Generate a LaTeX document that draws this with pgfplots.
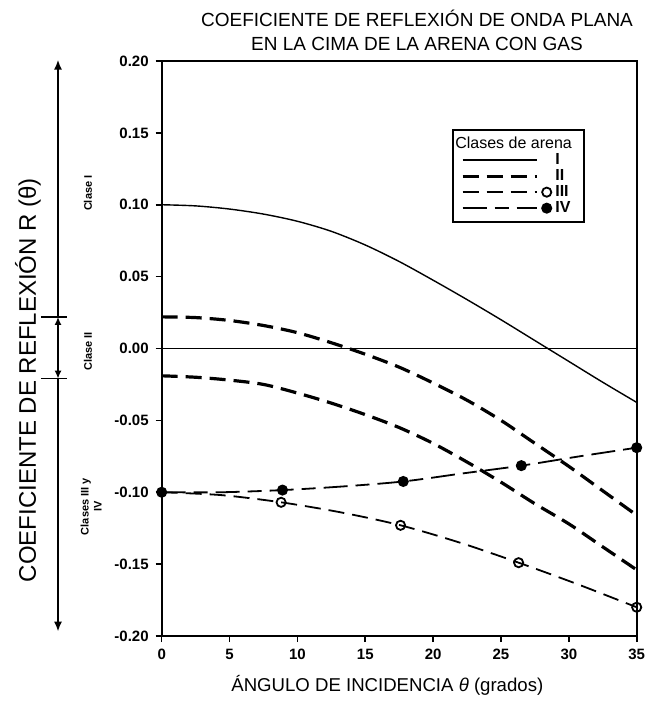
\documentclass[border=0pt]{standalone}
\usepackage{fontspec}
\setmainfont{Liberation Sans}
\usepackage{pgfplots}
\usepackage{pgfplotstable}
\pgfplotsset{compat=1.18}
\usetikzlibrary{arrows.meta}

\pgfplotstableread{
x y
0 0.100
2.5 0.0992
5 0.0970
7.5 0.0935
10 0.0885
12.5 0.0815
15 0.0720
17.5 0.0605
20 0.0475
22.5 0.034
25 0.0200
27.5 0.0055
30 -0.0090
32.5 -0.0235
35 -0.0375
}\classI

\pgfplotstableread{
x y
0 0.022
2.5 0.0215
5 0.0195
7.5 0.016
10 0.011
12.5 0.004
15 -0.004
17.5 -0.013
20 -0.024
22.5 -0.036
25 -0.050
27.5 -0.066
30 -0.082
32.5 -0.099
35 -0.116
}\classIIa

\pgfplotstableread{
x y
0 -0.019
2.5 -0.020
5 -0.022
7.5 -0.025
10 -0.031
12.5 -0.038
15 -0.046
17.5 -0.055
20 -0.066
22.5 -0.079
25 -0.093
27.5 -0.108
30 -0.122
32.5 -0.138
35 -0.154
}\classIIb

\pgfplotstableread{
x y
0 -0.100
4.4 -0.102
8.8 -0.107
13.2 -0.114
17.6 -0.123
21.95 -0.135
26.3 -0.149
30.65 -0.164
35 -0.180
}\classIII

\pgfplotstableread{
x y
0 -0.100
4.4 -0.100
8.9 -0.0985
13.3 -0.096
17.8 -0.0925
22.1 -0.087
26.5 -0.0815
30.8 -0.075
35 -0.069
}\classIV

\begin{document}
\begin{tikzpicture}
\path[use as bounding box] (-80.85pt,-34.5pt) rectangle (242.65pt,318pt);
\begin{axis}[
  at={(0pt,0pt)}, anchor=south west,
  scale only axis, width=237.5pt, height=287.5pt,
  xmin=0, xmax=35, ymin=-0.2, ymax=0.2,
  clip=false,
  xtick={0,5,10,15,20,25,30,35},
  ytick={-0.20,-0.15,-0.10,-0.05,0,0.05,0.10,0.15,0.20},
  yticklabel style={/pgf/number format/.cd, fixed, fixed zerofill, precision=2},
  /pgf/number format/assume math mode=true,
  tick label style={font=\fontsize{7.5}{8}\selectfont\bfseries},
  tick align=outside, tick pos=left,
  major tick length=3pt,
  axis line style={line width=1.1pt},
  every tick/.style={line width=0.8pt, black},
  title={COEFICIENTE DE REFLEXIÓN DE ONDA PLANA\\EN LA CIMA DE LA ARENA CON GAS},
  title style={at={(axis description cs:0.5375,1.032)}, anchor=center, yshift=0pt, align=center, font=\fontsize{9.5}{12}\selectfont},
  xlabel={ÁNGULO DE INCIDENCIA \textit{θ} (grados)},
  every axis x label/.style={at={(axis description cs:0.475,0)}, yshift=-24.5pt, anchor=center, font=\fontsize{9.3}{11}\selectfont},
  ylabel={COEFICIENTE DE REFLEXIÓN R (θ)},
  every axis y label/.style={at={(axis description cs:0,0.445)}, xshift=-66.85pt, rotate=90, anchor=center, font=\fontsize{12}{14}\selectfont},
  legend style={at={(axis cs:21.4,0.153)}, anchor=north west, draw=black, line width=1pt,
    font=\fontsize{8}{9}\selectfont\bfseries, inner xsep=4pt, inner ysep=1.5pt, row sep=-3pt},
  legend cell align=left,
  legend image code/.code={
    \draw[#1,mark=none] (0pt,0pt) -- (37pt,0pt);
    \draw[#1,mark indices={1}] plot coordinates {(42pt,0pt)};
  },
]
\addlegendimage{empty legend}
\addlegendentry{\hspace*{-50pt}\mdseries\fontsize{8}{9}\selectfont Clases de arena}

\addplot[black, line width=0.7pt, smooth] table {\classI};
\addlegendentry{I}
\addplot[black, line width=1.6pt, dash pattern=on 8pt off 4pt, smooth] table {\classIIa};
\addlegendentry{II}
\addplot[black, line width=0.9pt, dash pattern=on 8pt off 4pt, smooth, mark=o, mark size=2.3pt, mark options={solid, fill=white}, mark indices={3,5,7,9}] table {\classIII};
\addlegendentry{III}
\addplot[black, line width=0.9pt, dash pattern=on 12pt off 4pt on 7pt off 4pt, smooth, mark=*, mark size=2.3pt, mark options={solid}, mark indices={1,3,5,7,9}] table {\classIV};
\addlegendentry{IV}
\addplot[black, line width=1.6pt, dash pattern=on 8pt off 4pt, smooth, forget plot] table {\classIIb};
\addplot[black, line width=0.7pt, forget plot] coordinates {(0,0) (35,0)};

% class range annotation on the left
\draw[line width=1pt, -{Latex[length=5pt,width=4pt]}] (axis cs:-7.64,0.022) -- (axis cs:-7.64,0.201);
\draw[line width=1pt, -{Latex[length=5pt,width=4pt]}] (axis cs:-7.64,-0.021) -- (axis cs:-7.64,-0.197);
\draw[line width=1pt, {Latex[length=4pt,width=3.5pt]}-{Latex[length=4pt,width=3.5pt]}] (axis cs:-7.64,-0.021) -- (axis cs:-7.64,0.022);
\draw[line width=0.8pt] (axis cs:-8.9,0.022) -- (axis cs:-7.0,0.022);
\draw[line width=0.8pt] (axis cs:-8.9,-0.021) -- (axis cs:-7.0,-0.021);
\node[rotate=90, font=\fontsize{5.5}{6.5}\selectfont\bfseries] at (axis cs:-5.43,0.108) {Clase I};
\node[rotate=90, font=\fontsize{5.5}{6.5}\selectfont\bfseries] at (axis cs:-5.43,-0.002) {Clase II};
\node[rotate=90, align=center, font=\fontsize{5.5}{6.5}\selectfont\bfseries] at (axis cs:-5.2,-0.11) {Clases III y\\IV};
\end{axis}
\end{tikzpicture}
\end{document}
